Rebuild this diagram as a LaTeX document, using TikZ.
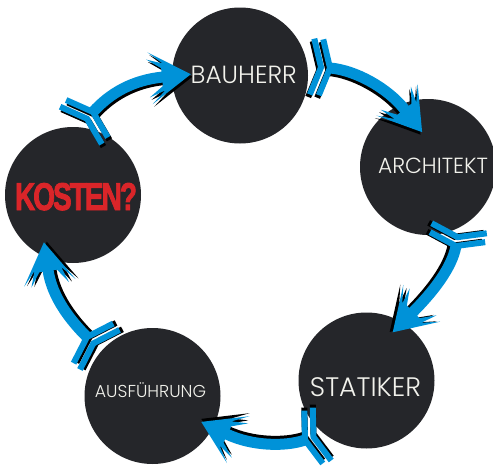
\documentclass[tikz,border=0pt]{standalone}
\usepackage{fontspec}
\usepackage{graphicx}
\usetikzlibrary{decorations.markings}
\newfontfamily\labelfont{Poppins Light}
\newfontfamily\costfont{Liberation Sans Bold}[FakeBold=2.5,LetterSpace=-7]
\definecolor{disc}{RGB}{37,38,42}
\definecolor{flow}{RGB}{0,146,216}
\definecolor{costred}{RGB}{218,37,41}
\definecolor{labelwhite}{RGB}{242,242,236}

\tikzset{
  disc/.style={circle, fill=disc, minimum size=136pt, inner sep=0pt},
  lbl/.style={anchor=base, inner sep=0pt, text=labelwhite, font=\labelfont},
  flowpart/.style={draw=#1, line width=11pt,
    postaction={decorate, decoration={markings,
      mark=at position 0 with {\draw[#1, line width=6pt, miter limit=10]
          (-9,28) -- (0,0) -- (-9,-28) (-18,28) -- (-9,0) -- (-18,-28);},
      mark=at position 0.9999 with {\fill[#1] (-1,5.5) -- (-1,9) -- (-15,19) -- (1,13.5)
          -- (-13,26) -- (28,0) -- (-13,-26) -- (1,-13.5) -- (-15,-19) -- (-1,-9)
          -- (-1,-5.5) -- cycle;}}}},
}

% one curved arrow: shadow copy shifted inwards, then the blue arrow on top
\newcommand\flowarrow[5]{%
  \begin{scope}[transform canvas={shift={#5}}]\path[flowpart=black] #1 .. controls #2 and #3 .. #4;\end{scope}
  \path[flowpart=flow] #1 .. controls #2 and #3 .. #4;}

\begin{document}
\begin{tikzpicture}[x=1pt, y=-1pt]
\useasboundingbox (0,0) rectangle (493,471);

% the five stations
\node[disc] (bauherr) at (240,75.5) {};
\node[disc] (architekt) at (428,167) {};
\node[disc] (statiker) at (366.5,380.5) {};
\node[disc] (ausf) at (152.5,396) {};
\node[disc] (kosten) at (73,195) {};

% arrows of the cycle
\flowarrow{([shift={(20,-83)}]kosten.center)}{+(17,-19)}{+(-30,3)}{([shift={(-77,1.5)}]bauherr.center)}{(1.6,2.5)}
\flowarrow{([shift={(90,-7.5)}]bauherr.center)}{+(25,2)}{+(-17,-22)}{([shift={(-23,-57)}]architekt.center)}{(-1.6,2.5)}
\flowarrow{([shift={(28,79)}]architekt.center)}{+(-4,22)}{+(20,-20)}{([shift={(46,-68)}]statiker.center)}{(-3,-0.4)}
\flowarrow{([shift={(-61.5,59.5)}]statiker.center)}{+(-20,7)}{+(25,12)}{([shift={(74,38)}]ausf.center)}{(0,-3)}
\flowarrow{([shift={(-65.5,-59)}]ausf.center)}{+(-17,-17)}{+(4,27)}{([shift={(-25,75)}]kosten.center)}{(2.9,-0.6)}

% labels
\node[lbl] (bauherrtext) at (243.7,83) {\resizebox{106pt}{!}{BAUHERR}};
\node[lbl] (architekttext) at (433,173) {\resizebox{110pt}{!}{ARCHITEKT}};
\node[lbl] (statikertext) at (365.5,396) {\resizebox{111pt}{!}{STATIKER}};
\node[lbl] (ausftext) at (150.5,397) {\resizebox{111pt}{!}{AUSFÜHRUNG}};
\node[anchor=base, inner sep=0pt, text=costred] (kostentext) at (76,210)
  {\resizebox{122pt}{27pt}{\costfont KOSTEN?}};
\end{tikzpicture}
\end{document}
